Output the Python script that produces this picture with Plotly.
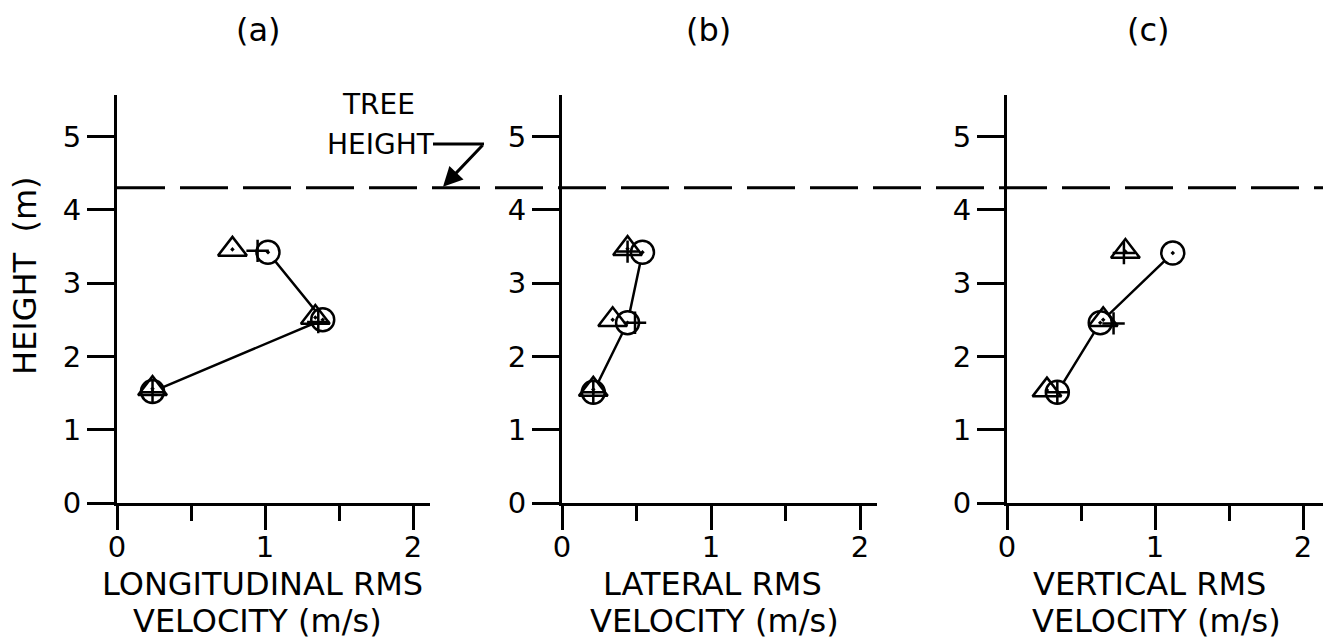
import plotly.graph_objects as go

W, H = 1323, 639

# ---- data ----
panel_labels = ["(a)", "(b)", "(c)"]
xtitle_line1 = ["LONGITUDINAL RMS", "LATERAL RMS", "VERTICAL RMS"]
xtitle_line2 = ["VELOCITY (m/s)", "VELOCITY (m/s)", "VELOCITY (m/s)"]

circle_x = [[1.02, 1.39, 0.24], [0.54, 0.44, 0.21], [1.12, 0.63, 0.34]]
circle_y = [[3.42, 2.50, 1.52], [3.42, 2.46, 1.51], [3.41, 2.46, 1.51]]
tri_x = [[0.78, 1.34, 0.24], [0.44, 0.34, 0.21], [0.80, 0.65, 0.27]]
tri_y = [[3.46, 2.53, 1.56], [3.47, 2.50, 1.55], [3.43, 2.50, 1.54]]
plus_x = [[0.95, 1.36, 0.24], [0.44, 0.49, 0.21], [0.79, 0.72, 0.34]]
plus_y = [[3.44, 2.47, 1.51], [3.43, 2.46, 1.51], [3.41, 2.45, 1.51]]

tree_height = 4.30
y_ticks = [0, 1, 2, 3, 4, 5]
x_ticks = [0, 1, 2]

# ---- layout geometry (pixels) ----
axis_left_px = [117, 562, 1007]
axis_right_px = [430, 877, 1323]
px_per_unit_x = [148, 149, 148]
y_bottom_px, y_top_px = 503, 95
px_per_unit_y = 73.3
title_x_px = [258, 708, 1148]
xt1_px = [262, 712, 1149]
xt2_px = [257, 714, 1156]

FONT = "DejaVu Sans"

def px2x(p):
    return p / W

def px2y(p):
    return 1 - p / H

fig = go.Figure()
layout = dict(
    width=W, height=H,
    margin=dict(l=0, r=0, t=0, b=0, pad=0, autoexpand=False),
    paper_bgcolor="white", plot_bgcolor="white",
    showlegend=False,
    font=dict(family=FONT, color="black"),
)

annotations = []
shapes = []

for i in range(3):
    xa = "x" if i == 0 else f"x{i+1}"
    ya = "y" if i == 0 else f"y{i+1}"
    xk = "xaxis" if i == 0 else f"xaxis{i+1}"
    yk = "yaxis" if i == 0 else f"yaxis{i+1}"
    xr = (axis_right_px[i] - axis_left_px[i]) / px_per_unit_x[i]
    yr = (y_bottom_px - y_top_px) / px_per_unit_y
    layout[xk] = dict(
        domain=[px2x(axis_left_px[i]), px2x(axis_right_px[i])],
        range=[0, xr], anchor=ya, automargin=False,
        showline=True, linecolor="black", linewidth=3,
        showgrid=False, zeroline=False,
        tickvals=x_ticks, ticktext=[str(v) for v in x_ticks],
        ticks="outside", ticklen=24, tickwidth=3, tickcolor="black",
        ticklabelstandoff=-8,
        minor=dict(dtick=0.5, tick0=0, ticks="outside", ticklen=15,
                   tickwidth=3, tickcolor="black", showgrid=False),
        tickfont=dict(family=FONT, size=29, color="black"),
        fixedrange=True,
    )
    layout[yk] = dict(
        domain=[px2y(y_bottom_px), px2y(y_top_px)],
        range=[0, yr], anchor=xa, automargin=False,
        showline=True, linecolor="black", linewidth=3,
        showgrid=False, zeroline=False,
        tickvals=y_ticks, ticktext=[str(v) for v in y_ticks],
        ticks="outside", ticklen=27, tickwidth=3, tickcolor="black",
        tickfont=dict(family=FONT, size=29, color="black"),
        fixedrange=True,
    )

    # connecting line through circle points
    fig.add_trace(go.Scatter(
        x=circle_x[i], y=circle_y[i], xaxis=xa, yaxis=ya,
        mode="lines", line=dict(color="black", width=2.5),
        hoverinfo="skip"))
    # circles with dot (white filled)
    fig.add_trace(go.Scatter(
        x=circle_x[i], y=circle_y[i], xaxis=xa, yaxis=ya, mode="markers",
        marker=dict(symbol="circle-dot", size=23, color="white",
                    line=dict(color="black", width=2.5))))
    # triangles with dot (open)
    fig.add_trace(go.Scatter(
        x=tri_x[i], y=tri_y[i], xaxis=xa, yaxis=ya, mode="markers",
        marker=dict(symbol="triangle-up-open-dot", size=25, color="black",
                    line=dict(color="black", width=2.5))))
    # plus signs
    fig.add_trace(go.Scatter(
        x=plus_x[i], y=plus_y[i], xaxis=xa, yaxis=ya, mode="markers",
        marker=dict(symbol="cross-thin-open", size=16, color="black",
                    line=dict(color="black", width=2.5))))

    annotations.append(dict(
        text=panel_labels[i], x=px2x(title_x_px[i]), y=px2y(30),
        xref="paper", yref="paper", showarrow=False,
        xanchor="center", yanchor="middle",
        font=dict(family=FONT, size=32, color="black")))
    annotations.append(dict(
        text=xtitle_line1[i], x=px2x(xt1_px[i]), y=px2y(584),
        xref="paper", yref="paper", showarrow=False,
        xanchor="center", yanchor="middle",
        font=dict(family=FONT, size=32, color="black")))
    annotations.append(dict(
        text=xtitle_line2[i], x=px2x(xt2_px[i]), y=px2y(621),
        xref="paper", yref="paper", showarrow=False,
        xanchor="center", yanchor="middle",
        font=dict(family=FONT, size=32, color="black")))

# y axis title
annotations.append(dict(
    text="HEIGHT&nbsp;&nbsp;(m)", x=px2x(25), y=px2y(276),
    xref="paper", yref="paper", showarrow=False, textangle=-90,
    xanchor="center", yanchor="middle",
    font=dict(family=FONT, size=32, color="black")))

# tree height dashed line across all panels
tree_py = y_bottom_px - tree_height * px_per_unit_y
shapes.append(dict(
    type="line", xref="paper", yref="paper",
    x0=px2x(axis_left_px[0]), x1=1.0,
    y0=px2y(tree_py), y1=px2y(tree_py),
    line=dict(color="black", width=3, dash="48px,15px")))

# TREE HEIGHT label with arrow
annotations.append(dict(
    text="TREE", x=px2x(378), y=px2y(104), xref="paper", yref="paper",
    showarrow=False, xanchor="center", yanchor="middle",
    font=dict(family=FONT, size=28, color="black")))
annotations.append(dict(
    text="HEIGHT", x=px2x(381), y=px2y(145), xref="paper", yref="paper",
    showarrow=False, xanchor="center", yanchor="middle",
    font=dict(family=FONT, size=28, color="black")))
shapes.append(dict(
    type="line", xref="paper", yref="paper",
    x0=px2x(433), x1=px2x(484), y0=px2y(144), y1=px2y(144),
    line=dict(color="black", width=3)))
annotations.append(dict(
    text="", x=px2x(443), y=px2y(tree_py - 1), xref="paper", yref="paper",
    showarrow=True, ax=41, ay=-43, axref="pixel", ayref="pixel",
    arrowhead=2, arrowsize=1.3, arrowwidth=3, arrowcolor="black"))

layout["annotations"] = annotations
layout["shapes"] = shapes
fig.update_layout(**layout)

fig.write_html("out.html", config={"displayModeBar": False})
